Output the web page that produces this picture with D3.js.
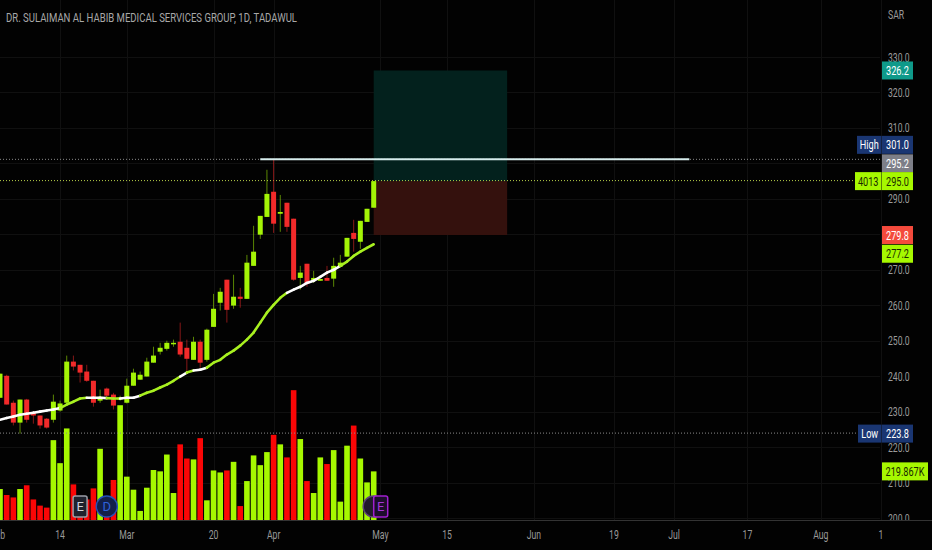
<!DOCTYPE html>
<html><head><meta charset="utf-8">
<script src="https://cdn.jsdelivr.net/npm/d3@7/dist/d3.min.js"></script>
<style>html,body{margin:0;padding:0;background:#020202;overflow:hidden}svg{display:block}text{font-family:Roboto,"Liberation Sans",sans-serif}</style>
</head><body><svg id="c" width="932" height="550"></svg>
<script>
const title = "DR. SULAIMAN AL HABIB MEDICAL SERVICES GROUP, 1D, TADAWUL";
const currency = "SAR";
const opens  = [233.9,240.1,232.5,226.9,233.4,229.7,228.9,228.0,227.7,230.3,232.5,244.1,243.2,241.3,238.7,233.1,236.5,234.8,233.4,232.5,237.3,239.0,239.9,243.8,246.9,247.7,249.2,249.7,248.0,244.6,249.7,244.6,253.9,260.7,267.2,259.9,262.4,261.8,271.1,279.9,284.9,292.0,285.8,288.9,284.4,267.7,271.7,266.9,266.9,267.7,267.5,270.9,273.7,280.4,277.9,283.5,287.5];
const highs  = [240.7,240.4,233.1,233.4,233.6,230.0,228.9,228.2,234.8,233.1,245.8,245.8,243.2,243.2,238.7,236.2,236.8,235.3,234.5,239.3,242.1,241.3,245.2,248.3,249.4,250.0,250.3,255.1,250.3,251.1,250.3,253.4,263.2,264.9,267.2,268.6,264.9,274.2,282.4,285.2,298.2,301.0,291.1,288.9,284.4,271.1,271.7,269.7,267.4,271.1,273.4,274.2,279.0,284.1,283.8,287.2,295.0];
const lows   = [233.9,232.0,226.1,223.8,226.9,226.6,225.2,225.2,226.9,230.0,232.5,241.6,238.2,238.4,231.4,232.5,233.7,230.6,233.1,232.3,237.3,239.0,239.9,243.8,246.1,247.2,248.3,245.5,240.7,244.6,242.4,244.1,253.9,258.5,255.1,259.0,259.3,261.8,271.1,278.7,284.9,280.4,280.7,280.7,266.9,264.4,265.2,266.3,266.9,266.9,265.2,270.9,273.7,275.1,275.9,283.5,287.5];
const closes = [240.7,232.0,226.9,233.4,227.7,228.9,226.1,225.5,232.8,232.3,244.1,242.7,241.0,238.7,232.5,234.2,234.5,231.7,234.0,237.3,241.0,240.4,244.1,245.8,248.0,249.4,249.4,246.1,244.9,249.7,243.8,253.1,259.0,263.8,258.7,262.4,261.8,272.0,275.1,285.2,291.4,283.0,286.3,282.1,267.2,269.2,266.1,267.7,267.4,266.9,271.1,272.0,279.0,278.7,283.8,287.2,295.0];
const volumes = [140,113,102,140,157,93,65,56,361,257,414,161,75,93,143,322,60,181,519,196,137,41,146,226,220,296,122,342,278,274,370,89,224,215,224,263,63,176,292,248,307,385,342,283,587,366,176,122,283,253,316,83,336,427,278,170,219.867];
const emaValues = [227.7,228.2,228.6,229.1,229.4,229.7,230.0,230.3,230.6,231.0,232.0,232.8,233.7,233.9,233.9,233.9,233.8,233.7,233.7,233.9,233.9,234.5,235.3,235.9,236.8,237.6,238.7,239.9,241.0,241.6,241.8,242.4,243.8,244.6,246.1,247.2,248.6,250.3,252.3,255.1,257.9,260.1,262.1,263.5,264.4,265.2,266.3,266.9,268.0,269.2,270.0,271.1,272.3,273.9,275.1,276.2,277.2];
const emaWhite = [1,1,1,1,1,1,1,1,1,0,0,0,0,1,1,1,0,0,1,1,1,0,0,0,0,0,0,1,0,1,1,0,0,0,0,0,0,0,0,0,0,0,0,1,1,1,1,1,1,1,1,0,0,0,0,0,0];
const priceTicks = [200,210,220,230,240,250,260,270,280,290,300,310,320,330];
const hiddenPriceLabels = [280,300];
const dateLabels = ["Feb","14","Mar","20","Apr","May","15","Jun","19","Jul","17","Aug","1"];
const dateBars = [-0.3,9,19,32,41,57,67,80,92,101,112,123,132];
const targetPrice = 326.2, entryPrice = 295.0, stopPrice = 279.8, highPrice = 301.0, lowPrice = 223.8, lastLinePrice = 295.2;
const positionBars = [56,76];
const resistanceBars = [39,103.3];
const resistancePrice = 301.0;

const GREEN="#a4f406", RED="#f22a2a", VRED="#fb0606", LIME="#a6f800";
const x = d3.scaleLinear().domain([0,56]).range([0,373.7]);
const y = d3.scaleLinear().domain([200,330]).range([518,57]);
const yVol = d3.scaleLinear().domain([0,600]).range([520,387.3]);
const svg = d3.select("#c");
const squeeze=(sel,f)=>sel.each(function(){const l=this.getComputedTextLength();d3.select(this).attr("textLength",l*f).attr("lengthAdjust","spacingAndGlyphs");});

svg.append("rect").attr("width",932).attr("height",550).attr("fill","#020202");
svg.append("defs").append("clipPath").attr("id","pane").append("rect").attr("width",932).attr("height",520);

// grid
const grid=svg.append("g").attr("stroke","#101010").attr("stroke-width",1);
grid.selectAll("line.h").data(priceTicks).join("line").attr("x1",0).attr("x2",880).attr("y1",d=>Math.round(y(d))+.5).attr("y2",d=>Math.round(y(d))+.5);
grid.selectAll("line.v").data(dateBars).join("line").attr("y1",0).attr("y2",520).attr("x1",d=>Math.round(x(d))+.5).attr("x2",d=>Math.round(x(d))+.5);

// long/short position boxes
svg.append("rect").attr("x",x(positionBars[0])).attr("width",x(positionBars[1])-x(positionBars[0])).attr("y",y(targetPrice)).attr("height",y(entryPrice)-y(targetPrice)).attr("fill","#03211d");
svg.append("rect").attr("x",x(positionBars[0])).attr("width",x(positionBars[1])-x(positionBars[0])).attr("y",y(entryPrice)).attr("height",y(stopPrice)-y(entryPrice)).attr("fill","#34110d");

// volume
svg.append("g").selectAll("rect").data(volumes).join("rect")
 .attr("x",(d,i)=>x(i)-2.8).attr("width",5.6).attr("y",d=>yVol(d)).attr("height",d=>yVol(0)-yVol(d))
 .attr("fill",(d,i)=>closes[i]>=opens[i]?LIME:VRED);

// dotted levels
const dots=[[highPrice,880,"#8a8a8a"],[entryPrice,856,"#b9d24a"],[lowPrice,858,"#8a8a8a"]];
svg.append("g").selectAll("line").data(dots).join("line").attr("x1",0).attr("x2",d=>d[1]).attr("y1",d=>y(d[0])-.5).attr("y2",d=>y(d[0])-.5)
 .attr("stroke",d=>d[2]).attr("stroke-width",1).attr("stroke-dasharray","1 2");

// candles
const idx=d3.range(closes.length);
const col=i=>closes[i]>=opens[i]?GREEN:RED;
svg.append("g").selectAll("line").data(idx).join("line").attr("x1",i=>x(i)).attr("x2",i=>x(i)).attr("y1",i=>y(highs[i])).attr("y2",i=>y(lows[i]))
 .attr("stroke",i=>col(i)).attr("stroke-opacity",.55).attr("stroke-width",1);
svg.append("g").selectAll("rect").data(idx).join("rect").attr("x",i=>x(i)-2.5).attr("width",5)
 .attr("y",i=>y(Math.max(opens[i],closes[i]))).attr("height",i=>Math.max(1.5,Math.abs(y(opens[i])-y(closes[i])))).attr("fill",i=>col(i));

// EMA
svg.append("g").attr("fill","none").attr("stroke-width",2.6).attr("stroke-linecap","round").selectAll("line").data(d3.range(emaValues.length-1)).join("line")
 .attr("x1",i=>x(i)).attr("x2",i=>x(i+1)).attr("y1",i=>y(emaValues[i])).attr("y2",i=>y(emaValues[i+1]))
 .attr("stroke",i=>emaWhite[i]?"#ffffff":"#a8f020");

// resistance line
svg.append("line").attr("x1",x(resistanceBars[0])).attr("x2",x(resistanceBars[1])).attr("y1",y(resistancePrice)-.5).attr("y2",y(resistancePrice)-.5).attr("stroke","#d6ecec").attr("stroke-width",2);

// event badges
const badge=(sel,bar,letter,stroke,fill,txt)=>{
 sel.append("rect").attr("x",x(bar)-7).attr("y",496).attr("width",14).attr("height",21).attr("rx",2).attr("fill",fill).attr("stroke",stroke).attr("stroke-width",1.5);
 sel.append("text").attr("x",x(bar)).attr("y",511).attr("text-anchor","middle").attr("font-size",13).attr("fill",txt).text(letter);
};
const circle=(sel,bar,letter,stroke,fill,txt)=>{
 sel.append("circle").attr("cx",x(bar)).attr("cy",506.5).attr("r",10.5).attr("fill",fill).attr("stroke",stroke).attr("stroke-width",1.5);
 sel.append("text").attr("x",x(bar)).attr("y",511).attr("text-anchor","middle").attr("font-size",13).attr("fill",txt).text(letter);
};
const b=svg.append("g");
badge(b,12,"E","#9a9da6","#1e222d","#d0d3da");
circle(b,16,"D","#2450b8","#12204a","#2f62d8");
circle(b,56,"","#5c3f78","#221a2c","#888");
badge(b,57.05,"E","#a11fd0","#1d0d2c","#a535d8");

// axes text
const pt=svg.append("g").attr("clip-path","url(#pane)");
pt.selectAll("text").data(priceTicks.filter(d=>!hiddenPriceLabels.includes(d))).join("text").attr("x",888).attr("y",d=>y(d)+4.5).attr("font-size",12).attr("fill","#9a9a9a").text(d=>d.toFixed(1)).call(squeeze,.72);
svg.append("text").attr("x",888).attr("y",19).attr("font-size",12).attr("fill","#9a9a9a").text(currency).call(squeeze,.72);
svg.append("text").attr("x",6).attr("y",22).attr("font-size",13).attr("fill","#a8a8a8").text(title).attr("textLength",291).attr("lengthAdjust","spacingAndGlyphs");
svg.append("line").attr("x1",0).attr("x2",932).attr("y1",520.5).attr("y2",520.5).attr("stroke","#333");
svg.append("g").selectAll("text").data(dateLabels).join("text").attr("x",(d,i)=>x(dateBars[i])).attr("y",539).attr("text-anchor","middle").attr("font-size",12).attr("fill","#9a9a9a").text(d=>d)
 .each(function(){const l=this.getComputedTextLength();const cx=+this.getAttribute("x");d3.select(this).attr("x",cx-l*.36).attr("text-anchor","start").attr("textLength",l*.72).attr("lengthAdjust","spacingAndGlyphs");});

// price labels
const tag=(yc,x0,x1,fill,txtc,t)=>{
 svg.append("rect").attr("x",x0).attr("y",yc-9).attr("width",x1-x0).attr("height",18).attr("fill",fill);
 const tx=svg.append("text").attr("y",yc+4.5).attr("font-size",12).attr("fill",txtc).text(t);
 const l=tx.node().getComputedTextLength()*.76;
 tx.attr("x",(x0+x1)/2-l/2).attr("textLength",l).attr("lengthAdjust","spacingAndGlyphs");
};
const NAVY="#1a3672";
tag(y(targetPrice),882,913,"#0f9a8a","#ffffff",targetPrice.toFixed(1));
tag(y(highPrice)-15,857,881.5,NAVY,"#ffffff","High");
tag(y(highPrice)-15,882,913,NAVY,"#ffffff",highPrice.toFixed(1));
tag(y(highPrice)+3.5,882,913,"#7d7f88","#ffffff",lastLinePrice.toFixed(1));
tag(y(entryPrice),855,881.5,LIME,"#1a2a00","4013");
tag(y(entryPrice),882,913,LIME,"#1a2a00",entryPrice.toFixed(1));
tag(y(stopPrice),882,913,"#f44a3c","#ffffff",stopPrice.toFixed(1));
tag(y(emaValues[56])+9.5,882,913,LIME,"#1a2a00",emaValues[56].toFixed(1));
tag(y(lowPrice),858,881.5,NAVY,"#ffffff","Low");
tag(y(lowPrice),882,913,NAVY,"#ffffff",lowPrice.toFixed(1));
tag(yVol(volumes[56]),882,928,LIME,"#1a2a00",volumes[56].toFixed(3)+"K");
</script></body></html>
